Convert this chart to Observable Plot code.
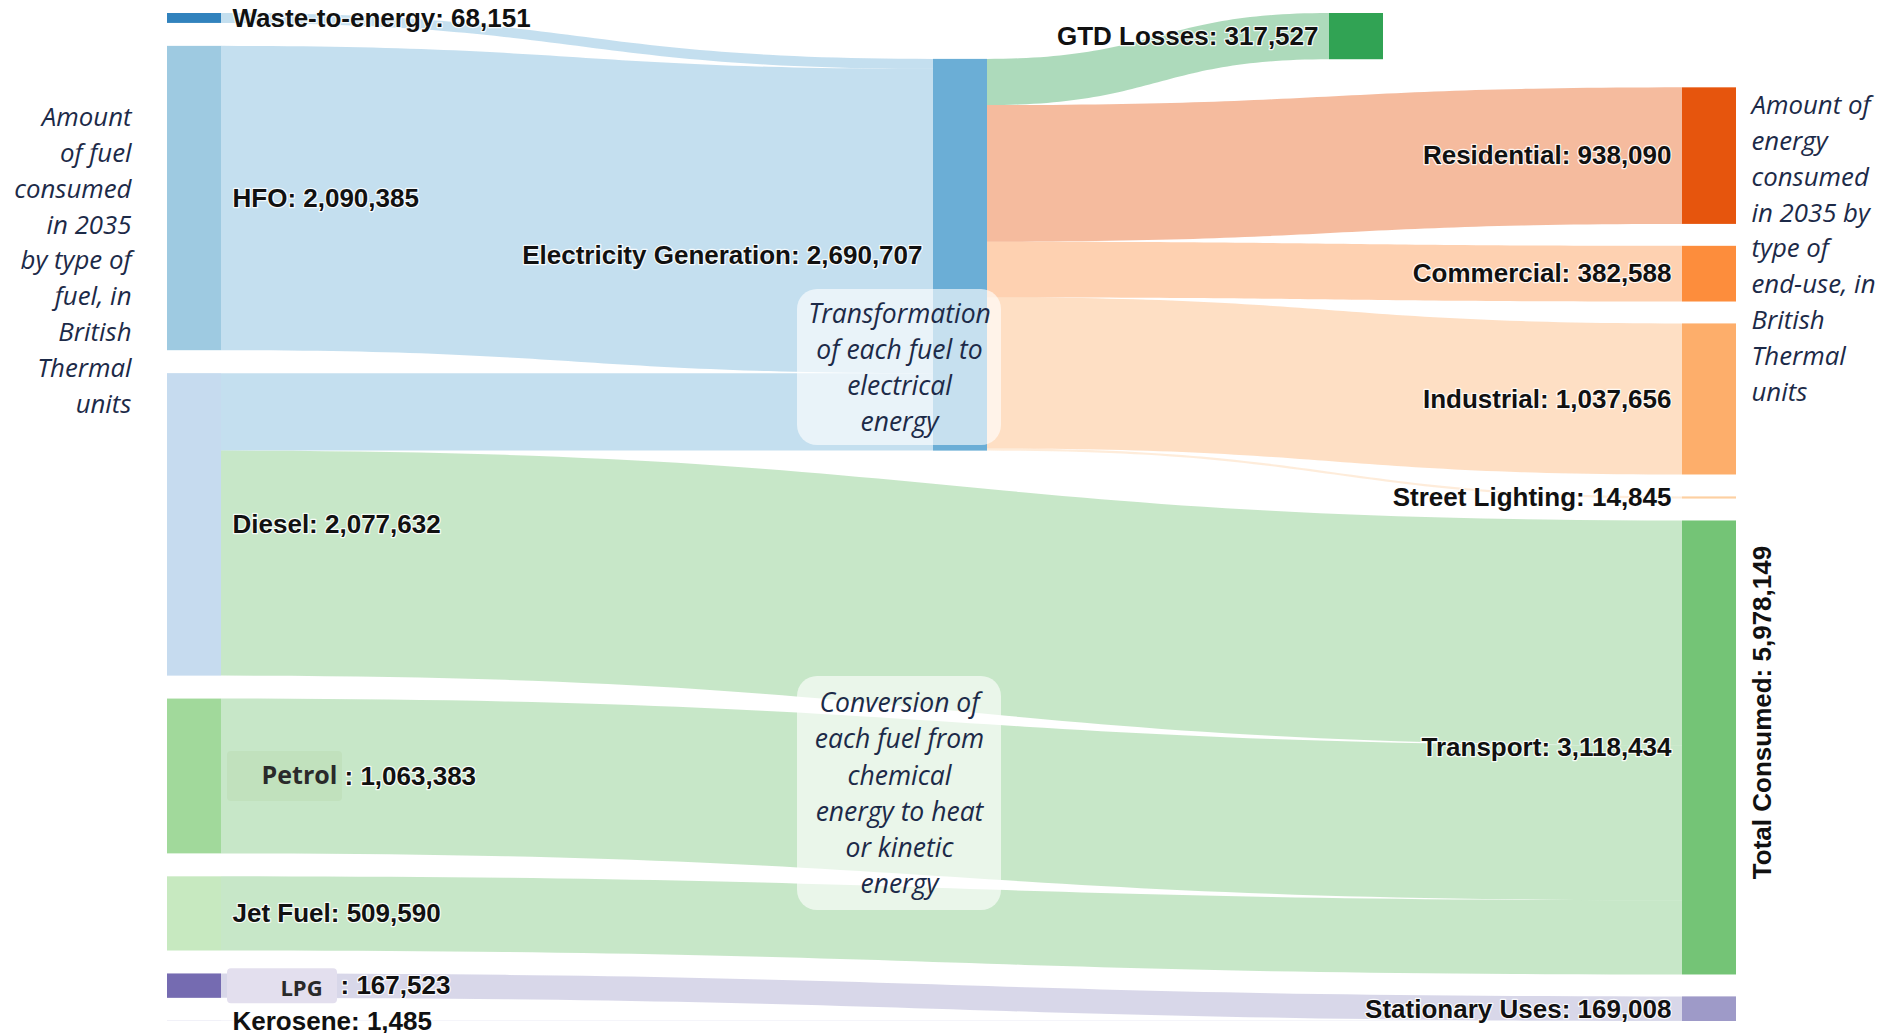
<!DOCTYPE html>
<html>
<head>
<meta charset="utf-8">
<style>
  html, body { margin: 0; padding: 0; background: #ffffff; }
  #chart svg { display: block; }
</style>
<script src="https://cdn.jsdelivr.net/npm/d3@7"></script>
<script src="https://cdn.jsdelivr.net/npm/@observablehq/plot@0.6"></script>
</head>
<body>
<div id="chart"></div>
<script>
// ---------------- DATA ----------------
const fuels = ["Waste-to-energy", "HFO", "Diesel", "Petrol", "Jet Fuel", "LPG", "Kerosene"];
const conversions = ["Electricity Generation"];
const losses = ["GTD Losses"];
const endUses = ["Residential", "Commercial", "Industrial", "Street Lighting", "Transport", "Stationary Uses"];

const linkSources = ["Waste-to-energy", "HFO", "Diesel", "Diesel", "Petrol", "Jet Fuel", "LPG", "Kerosene",
  "Electricity Generation", "Electricity Generation", "Electricity Generation", "Electricity Generation", "Electricity Generation"];
const linkTargets = ["Electricity Generation", "Electricity Generation", "Electricity Generation", "Transport", "Transport", "Transport", "Stationary Uses", "Stationary Uses",
  "GTD Losses", "Residential", "Commercial", "Industrial", "Street Lighting"];
const linkValues = [68151, 2090385, 532171, 1545461, 1063383, 509590, 167523, 1485,
  317527, 938090, 382588, 1037656, 14845];

const totalLabel = "Total Consumed";
const boxedNames = ["Petrol", "LPG"];
const leftNote = ["Amount", "of fuel", "consumed", "in 2035", "by type of", "fuel, in", "British", "Thermal", "units"];
const rightNote = ["Amount of", "energy", "consumed", "in 2035 by", "type of", "end-use, in", "British", "Thermal", "units"];
const noteTransform = ["Transformation", "of each fuel to", "electrical", "energy"];
const noteConversion = ["Conversion of", "each fuel from", "chemical", "energy to heat", "or kinetic", "energy"];

// ---------------- STYLE ----------------
const palette = {
  "Waste-to-energy": "#3182bd", "Electricity Generation": "#6baed6", "HFO": "#9ecae1", "Diesel": "#c6dbef",
  "Residential": "#e6550d", "Commercial": "#fd8d3c", "Industrial": "#fdae6b", "Street Lighting": "#fdd0a2",
  "GTD Losses": "#31a354", "Transport": "#74c476", "Petrol": "#a1d99b", "Jet Fuel": "#c7e9c0",
  "LPG": "#756bb1", "Stationary Uses": "#9e9ac8", "Kerosene": "#bcbddc"
};
const W = 1903, H = 1033, ML = 167, MR = 167, MT = 13, MB = 12;
const plotW = W - ML - MR, plotH = H - MT - MB;
const LABEL_FONT = "'Liberation Sans', Arial, Helvetica, sans-serif";
const NOTE_FONT = "'Open Sans', 'Noto Sans', sans-serif";
const NOTE_COLOR = "#1c2a48";

// ---------------- LAYOUT (sankey) ----------------
const fmt = d3.format(",");
const links = linkSources.map((s, i) => ({id: i, source: s, target: linkTargets[i], value: linkValues[i]}));
const nodes = new Map();
[[fuels, 0], [conversions, 1], [losses, 2], [endUses, 3]].forEach(([names, col]) =>
  names.forEach(n => nodes.set(n, {name: n, col, inV: 0, outV: 0, sOff: 0, tOff: 0})));
for (const l of links) { nodes.get(l.source).outV += l.value; nodes.get(l.target).inV += l.value; }
for (const n of nodes.values()) n.value = Math.max(n.inV, n.outV);

const COLX = [0, 766 / plotW, 1162 / plotW, 1515 / plotW];   // column positions (fraction of width)
const NW = 54 / plotW;                                          // node width
const total = d3.sum(fuels, f => nodes.get(f).value);
const PADV = total * 0.02636;                                   // node padding in value units (left column)
const PADR = PADV * 0.955;                                      // node padding in value units (right column)
const U = total + (fuels.length - 1) * PADV;
const pxX = px => px / plotW;          // pixel offsets -> x units
const pxY = px => px / plotH * U;      // pixel offsets -> y units
const ax = px => (px - ML) / plotW;    // absolute pixel -> x units (annotations)
const ay = py => (py - MT) / plotH * U;

// left column stacked from the top
let yy = 0;
for (const f of fuels) { const n = nodes.get(f); n.y0 = yy; n.y1 = yy + n.value; yy = n.y1 + PADV; }
// conversion node: its last incoming link runs flat
{
  const e = nodes.get(conversions[0]);
  const inL = links.filter(l => l.target === e.name);
  const last = inL[inL.length - 1];
  const src = nodes.get(last.source);
  const off = d3.sum(links.filter(l => l.source === src.name && l.id < last.id), l => l.value);
  e.y1 = src.y0 + off + last.value; e.y0 = e.y1 - e.value;
}
// losses at top
for (const n of losses) { const o = nodes.get(n); o.y0 = 0; o.y1 = o.value; }
// right column stacked from the bottom
yy = U;
for (const f of [...endUses].reverse()) { const n = nodes.get(f); n.y1 = yy; n.y0 = yy - n.value; yy = n.y0 - PADR; }
for (const n of nodes.values()) { n.x0 = COLX[n.col]; n.x1 = n.x0 + NW; n.fill = palette[n.name]; }

// link offsets
for (const l of links) {
  const s = nodes.get(l.source), t = nodes.get(l.target);
  l.sy = s.y0 + s.sOff; s.sOff += l.value;
  l.ty = t.y0 + t.tOff; t.tOff += l.value;
  l.xa = s.x1; l.xb = t.x0;
}
const N = 60;
const ribbon = [];
for (const l of links) {
  for (let k = 0; k <= N; k++) {
    const t = k / N;
    const bx = 1.5 * t * (1 - t) + t * t * t;
    const by = 3 * t * t - 2 * t * t * t;
    const top = l.sy + (l.ty - l.sy) * by;
    ribbon.push({id: l.id, x: l.xa + (l.xb - l.xa) * bx, y1: top, y2: top + l.value, fill: palette[l.target]});
  }
}

const nodeArr = [...nodes.values()];
const mid = n => (n.y0 + n.y1) / 2;
const LABEL_GAP = pxX(11);
const leftLabels = nodeArr.filter(n => n.col === 0).map(n => {
  const boxed = boxedNames.includes(n.name);
  const extra = n.name === "Petrol" ? pxX(112) : n.name === "LPG" ? pxX(108) : 0;
  return {x: n.x1 + LABEL_GAP + extra, y: mid(n), text: (boxed ? "" : n.name) + ": " + fmt(n.value)};
});
const rightLabels = nodeArr.filter(n => n.col !== 0).map(n => ({x: n.x0 - LABEL_GAP, y: mid(n), text: n.name + ": " + fmt(n.value)}));
const boxes = boxedNames.map(name => {
  const n = nodes.get(name);
  const isP = name === "Petrol";
  const half = pxY(isP ? 25 : 17.5);
  return {
    name, x1: n.x1 + pxX(6), x2: n.x1 + pxX(isP ? 121 : 116),
    y1: mid(n) - half, y2: mid(n) + half,
    tx: n.x1 + pxX(isP ? 78 : 80), ty: mid(n) + pxY(isP ? 0 : 3),
    fill: isP ? "#c1e1bd" : "#e3dfee"
  };
});

const halo = {stroke: "white", strokeWidth: 2.5, strokeOpacity: 0.85, paintOrder: "stroke"};
const labelStyle = {fontFamily: LABEL_FONT, fontWeight: "bold", fontSize: 26, fill: "#111111", ...halo};
const noteStyle = {fontFamily: NOTE_FONT, fontStyle: "italic", fill: NOTE_COLOR};

const chart = Plot.plot({
  width: W, height: H,
  marginLeft: ML, marginRight: MR, marginTop: MT, marginBottom: MB,
  x: {domain: [0, 1], axis: null},
  y: {domain: [0, U], reverse: true, axis: null},
  style: {background: "#ffffff", overflow: "visible"},
  marks: [
    Plot.areaY(ribbon, {x: "x", y1: "y1", y2: "y2", z: "id", fill: "fill", fillOpacity: 0.4, curve: "linear"}),
    Plot.rect(nodeArr, {x1: "x0", x2: "x1", y1: "y0", y2: "y1", fill: "fill"}),
    // boxed (overlaid) names
    Plot.rect(boxes, {x1: "x1", x2: "x2", y1: "y1", y2: "y2", fill: "fill", rx: 4, ry: 4}),
    Plot.text(boxes.filter(b => b.name === "Petrol"), {x: "tx", y: "ty", text: "name", fontFamily: NOTE_FONT, fontWeight: "bold", fontSize: 25, fill: "#2a2a2a", textAnchor: "middle"}),
    Plot.text(boxes.filter(b => b.name === "LPG"), {x: "tx", y: "ty", text: "name", fontFamily: NOTE_FONT, fontWeight: "bold", fontSize: 22, fill: "#2a2a2a", textAnchor: "middle"}),
    // node labels
    Plot.text(leftLabels, {x: "x", y: "y", text: "text", textAnchor: "start", ...labelStyle}),
    Plot.text(rightLabels, {x: "x", y: "y", text: "text", textAnchor: "end", ...labelStyle}),
    // explanatory notes boxes
    Plot.rect([{x1: ax(797), x2: ax(1001), y1: ay(289), y2: ay(445)}, {x1: ax(797), x2: ax(1001), y1: ay(676), y2: ay(910)}],
      {x1: "x1", x2: "x2", y1: "y1", y2: "y2", fill: "white", fillOpacity: 0.62, rx: 20, ry: 20}),
    Plot.text([noteTransform.join("\n")], {x: ax(899), y: ay(365), text: d => d, fontSize: 26.5, lineHeight: 1.36, textAnchor: "middle", ...noteStyle}),
    Plot.text([noteConversion.join("\n")], {x: ax(899), y: ay(790.5), text: d => d, fontSize: 26.5, lineHeight: 1.36, textAnchor: "middle", ...noteStyle}),
    Plot.text([leftNote.join("\n")], {x: ax(131), y: ay(257.5), text: d => d, fontSize: 25.8, lineHeight: 1.39, textAnchor: "end", ...noteStyle}),
    Plot.text([rightNote.join("\n")], {x: ax(1751), y: ay(245.5), text: d => d, fontSize: 25.8, lineHeight: 1.39, textAnchor: "start", ...noteStyle}),
    // total
    Plot.text([totalLabel + ": " + fmt(total)], {x: ax(1762), y: ay(712), text: d => d, rotate: -90,
      fontFamily: LABEL_FONT, fontWeight: "bold", fontSize: 26, fill: "#111111", textAnchor: "middle"})
  ]
});
document.getElementById("chart").appendChild(chart);
</script>
</body>
</html>
